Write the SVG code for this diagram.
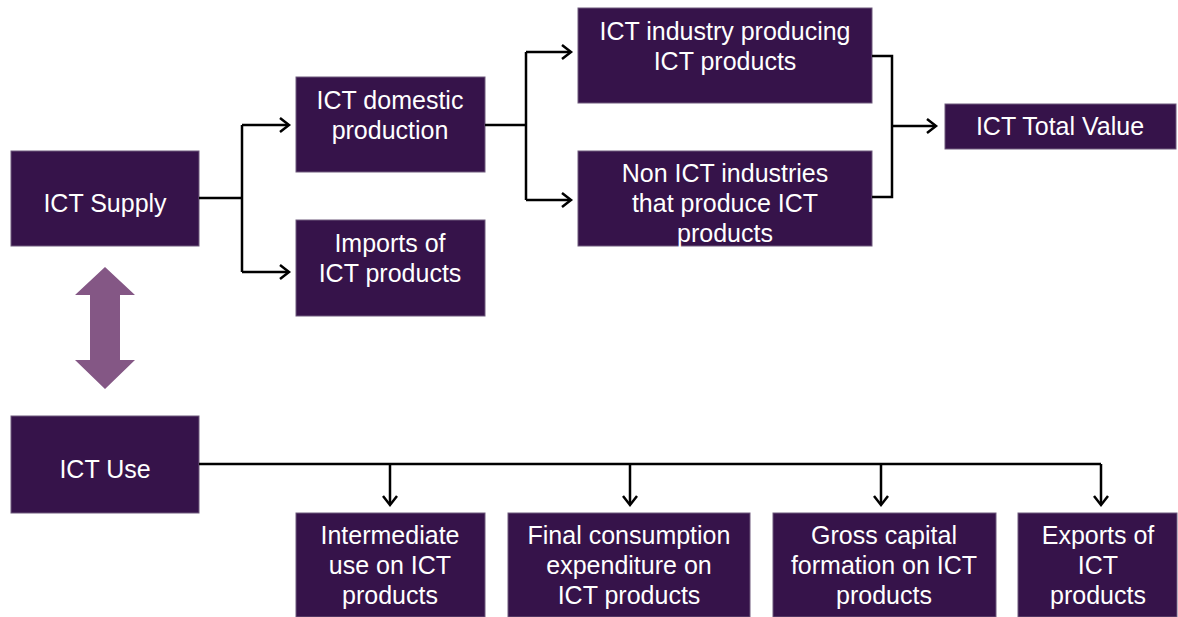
<svg xmlns="http://www.w3.org/2000/svg" width="1178" height="617" viewBox="0 0 1178 617">
  <defs>
    <style>
      .box { fill: #36134a; stroke: #6e5a7c; stroke-width: 1; }
      .lbl { fill: #ffffff; font-family: "Liberation Sans", Arial, sans-serif; font-size: 25px; text-anchor: middle; }
      .wire { fill: none; stroke: #000000; stroke-width: 2.5; }
      .head { fill: none; stroke: #000000; stroke-width: 2.5; stroke-linejoin: miter; }
    </style>
  </defs>
  <rect width="1178" height="617" fill="#ffffff"/>

  <!-- supply side -->
  <g id="ict-supply">
    <rect class="box" x="11" y="151" width="188" height="95"/>
    <text class="lbl" x="105" y="212">ICT Supply</text>
  </g>
  <g id="ict-domestic-production">
    <rect class="box" x="296" y="77" width="189" height="95"/>
    <text class="lbl" x="390" y="109">ICT domestic</text>
    <text class="lbl" x="390" y="139">production</text>
  </g>
  <g id="imports">
    <rect class="box" x="296" y="220" width="189" height="96"/>
    <text class="lbl" x="390" y="252">Imports of</text>
    <text class="lbl" x="390" y="282">ICT products</text>
  </g>
  <g id="ict-industry">
    <rect class="box" x="578" y="8" width="294" height="95"/>
    <text class="lbl" x="725" y="40">ICT industry producing</text>
    <text class="lbl" x="725" y="70">ICT products</text>
  </g>
  <g id="non-ict-industries">
    <rect class="box" x="578" y="151" width="294" height="95"/>
    <text class="lbl" x="725" y="182">Non ICT industries</text>
    <text class="lbl" x="725" y="212">that produce ICT</text>
    <text class="lbl" x="725" y="242">products</text>
  </g>
  <g id="ict-total-value">
    <rect class="box" x="945" y="104" width="231" height="45"/>
    <text class="lbl" x="1060" y="135">ICT Total Value</text>
  </g>

  <!-- use side -->
  <g id="ict-use">
    <rect class="box" x="11" y="416" width="188" height="97"/>
    <text class="lbl" x="105" y="478">ICT Use</text>
  </g>
  <g id="intermediate-use">
    <rect class="box" x="296" y="513" width="189" height="104"/>
    <text class="lbl" x="390" y="544">Intermediate</text>
    <text class="lbl" x="390" y="574">use on ICT</text>
    <text class="lbl" x="390" y="604">products</text>
  </g>
  <g id="final-consumption">
    <rect class="box" x="508" y="513" width="242" height="104"/>
    <text class="lbl" x="629" y="544">Final consumption</text>
    <text class="lbl" x="629" y="574">expenditure on</text>
    <text class="lbl" x="629" y="604">ICT products</text>
  </g>
  <g id="gross-capital-formation">
    <rect class="box" x="773" y="513" width="223" height="104"/>
    <text class="lbl" x="884" y="544">Gross capital</text>
    <text class="lbl" x="884" y="574">formation on ICT</text>
    <text class="lbl" x="884" y="604">products</text>
  </g>
  <g id="exports">
    <rect class="box" x="1018" y="513" width="159" height="104"/>
    <text class="lbl" x="1098" y="544">Exports of</text>
    <text class="lbl" x="1098" y="574">ICT</text>
    <text class="lbl" x="1098" y="604">products</text>
  </g>

  <!-- two-way link between supply and use -->
  <g id="supply-use-link">
    <polygon fill="#845785" points="105,267 135,295 120,295 120,360 135,360 105,389 75,360 90,360 90,295 75,295"/>
  </g>

  <g id="connectors">
    <!-- supply split -->
    <path class="wire" d="M199,198 H242 M242,125 V272 M242,125 H288 M242,272 H288"/>
    <path class="head" d="M280,118 L289,125 L280,132 M280,265 L289,272 L280,279"/>
    <!-- domestic production split -->
    <path class="wire" d="M485,125 H526 M526,52 V200 M526,52 H570 M526,200 H570"/>
    <path class="head" d="M562,45 L571,52 L562,59 M562,193 L571,200 L562,207"/>
    <!-- merge into total value -->
    <path class="wire" d="M872,56 H892 V197 H872 M892,126 H935"/>
    <path class="head" d="M927,119 L936,126 L927,133"/>
    <!-- use distribution -->
    <path class="wire" d="M199,464 H1101 M390,464 V504 M630,464 V504 M881,464 V504 M1101,464 V504"/>
    <path class="head" d="M383,496 L390,505 L397,496 M623,496 L630,505 L637,496 M874,496 L881,505 L888,496 M1094,496 L1101,505 L1108,496"/>
  </g>
</svg>
